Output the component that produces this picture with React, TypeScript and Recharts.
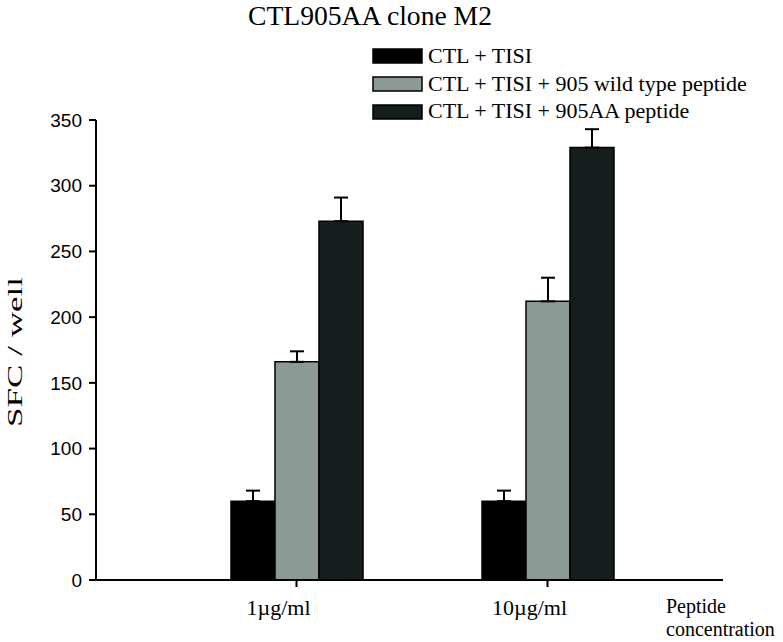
import { BarChart, Bar, XAxis, YAxis, ErrorBar, Label } from "recharts";

const categories = ["1µg/ml", "10µg/ml"];
const tisi = [60, 60];
const tisiErr = [8, 8];
const wildType = [166, 212];
const wildTypeErr = [8, 18];
const aa905 = [273, 329];
const aa905Err = [18, 14];
const yTicks = [0, 50, 100, 150, 200, 250, 300, 350];

const seriesNames = [
  "CTL + TISI",
  "CTL + TISI + 905 wild type peptide",
  "CTL + TISI + 905AA peptide",
];
const colors = ["#000000", "#8c9a96", "#161e1d"];

const serif = '"Liberation Serif", "Times New Roman", serif';
const sans = '"Liberation Sans", Arial, sans-serif';

const data = categories.map((c, i) => ({
  conc: c,
  tisi: tisi[i],
  tisiErr: [0, tisiErr[i]],
  wild: wildType[i],
  wildErr: [0, wildTypeErr[i]],
  aa: aa905[i],
  aaErr: [0, aa905Err[i]],
}));

export default function App() {
  return (
    <div style={{ position: "absolute", left: 0, top: 0, width: 783, height: 642 }}>
      <BarChart
        width={783}
        height={642}
        data={data}
        margin={{ top: 120, right: 60, bottom: 22, left: 36 }}
        barGap={0}
        barCategoryGap={60}
      >
        <XAxis
          dataKey="conc"
          padding={{ left: 75, right: 50 }}
          height={40}
          tickSize={7}
          tickMargin={12}
          axisLine={{ stroke: "#000", strokeWidth: 2 }}
          tickLine={{ stroke: "#000", strokeWidth: 2 }}
          tick={{ fontFamily: serif, fontSize: 22, fill: "#000", dx: -18 }}
        >
          <Label
            content={() => (
              <text fontFamily={serif} fontSize={20} fill="#000">
                <tspan x={666} y={613}>Peptide</tspan>
                <tspan x={666} y={636}>concentration</tspan>
              </text>
            )}
          />
        </XAxis>
        <YAxis
          domain={[0, 350]}
          ticks={yTicks}
          width={60}
          tickSize={7}
          tickMargin={7}
          axisLine={{ stroke: "#000", strokeWidth: 2 }}
          tickLine={{ stroke: "#000", strokeWidth: 2 }}
          tick={{ fontFamily: sans, fontSize: 19, fill: "#000" }}
        >
          <Label
            content={() => (
              <text
                x={0}
                y={0}
                transform="translate(22,352) rotate(-90)"
                textAnchor="middle"
                fontFamily={serif}
                fontSize={22}
                fill="#000"
                textLength={150}
                lengthAdjust="spacingAndGlyphs"
              >
                SFC / well
              </text>
            )}
          />
        </YAxis>
        <Bar dataKey="tisi" fill={colors[0]} stroke="#000" strokeWidth={1.5} isAnimationActive={false}>
          <ErrorBar dataKey="tisiErr" width={7} stroke="#000" strokeWidth={2} direction="y" />
        </Bar>
        <Bar dataKey="wild" fill={colors[1]} stroke="#000" strokeWidth={1.5} isAnimationActive={false}>
          <ErrorBar dataKey="wildErr" width={7} stroke="#000" strokeWidth={2} direction="y" />
        </Bar>
        <Bar dataKey="aa" fill={colors[2]} stroke="#000" strokeWidth={1.5} isAnimationActive={false}>
          <ErrorBar dataKey="aaErr" width={7} stroke="#000" strokeWidth={2} direction="y" />
        </Bar>
      </BarChart>
      {/* title + legend */}
      <svg
        width={783}
        height={125}
        style={{ position: "absolute", left: 0, top: 0, pointerEvents: "none" }}
      >
        <text
          x={370}
          y={25}
          textAnchor="middle"
          fontFamily={serif}
          fontSize={27}
          fill="#000"
          textLength={244}
          lengthAdjust="spacingAndGlyphs"
        >
          CTL905AA clone M2
        </text>
        {seriesNames.map((name, i) => (
          <g key={name}>
            <rect
              x={373}
              y={49 + i * 28}
              width={49}
              height={14}
              fill={colors[i]}
              stroke="#000"
              strokeWidth={1.5}
            />
            <text x={428} y={63 + i * 27.5} fontFamily={serif} fontSize={22} fill="#000">
              {name}
            </text>
          </g>
        ))}
      </svg>
    </div>
  );
}
